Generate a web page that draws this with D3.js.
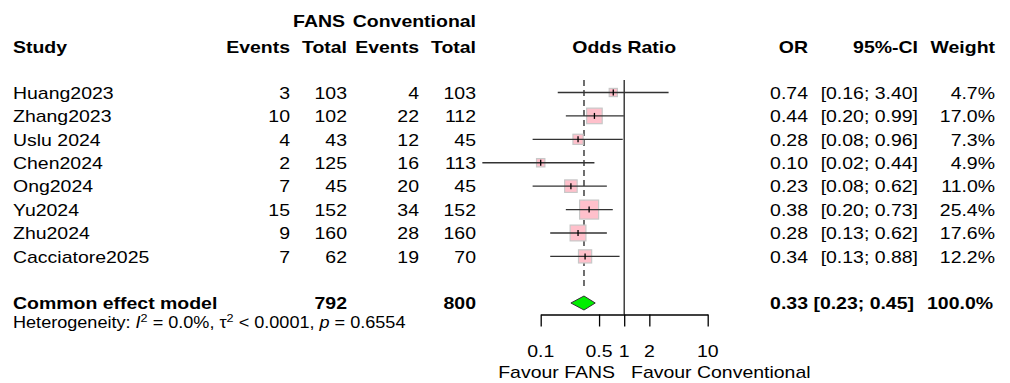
<!DOCTYPE html>
<html><head><meta charset="utf-8">
<script src="https://cdn.jsdelivr.net/npm/d3@7"></script>
<style>
body{margin:0;background:#fff}
svg{display:block}
text{font-family:"Liberation Sans",Arial,Helvetica,sans-serif;fill:#000}
</style>
</head><body>
<svg id="c" width="1010" height="383"></svg>
<script>
// ---------- data ----------
const studies    = ["Huang2023","Zhang2023","Uslu 2024","Chen2024","Ong2024","Yu2024","Zhu2024","Cacciatore2025"];
const fansEvents = [3,10,4,2,7,15,9,7];
const fansTotal  = [103,102,43,125,45,152,160,62];
const convEvents = [4,22,12,16,20,34,28,19];
const convTotal  = [103,112,45,113,45,152,160,70];
const oddsRatio  = [0.74,0.44,0.28,0.10,0.23,0.38,0.28,0.34];
const ciLower    = [0.16,0.20,0.08,0.02,0.08,0.20,0.13,0.13];
const ciUpper    = [3.40,0.99,0.96,0.44,0.62,0.73,0.62,0.88];
const weights    = [4.7,17.0,7.3,4.9,11.0,25.4,17.6,12.2];
const pooledLabel = "Common effect model";
const pooledOR    = 0.33, pooledLower = 0.23, pooledUpper = 0.45;
const pooledFansTotal = 792, pooledConvTotal = 800, pooledWeight = 100.0;
const axisTicks  = [0.1,0.5,1,2,10];
const hetI2 = "0.0%", hetTau2 = "0.0001", hetP = "0.6554";

// ---------- layout ----------
const svg = d3.select("#c");
const SX = 1.145;
const FS = 17;
const x = d3.scaleLog().domain([0.1,10]).range([540.7,707.7]);
const y = d3.scalePoint().domain(studies).range([92.5,256.4]);
const yPooled = 303;
const sq = d3.scaleSqrt().domain([0,25.4]).range([0,19]);
const f2 = d3.format(".2f"), f1 = d3.format(".1f");

function txt(px,py,s,opt={}){
  const t = svg.append("text")
    .attr("transform",`translate(${px},${py}) scale(${SX},1)`)
    .attr("text-anchor",opt.anchor||"start")
    .style("font-size",(opt.size||FS)+"px")
    .style("font-weight",opt.bold?"bold":"normal");
  if(s!==null) t.text(s);
  return t;
}

// headers
txt(13,53,"Study",{bold:true});
txt(345,27,"FANS",{bold:true,anchor:"end"});
txt(476,27,"Conventional",{bold:true,anchor:"end"});
txt(290,53,"Events",{bold:true,anchor:"end"});
txt(347,53,"Total",{bold:true,anchor:"end"});
txt(419,53,"Events",{bold:true,anchor:"end"});
txt(476,53,"Total",{bold:true,anchor:"end"});
txt(x(1),53,"Odds Ratio",{bold:true,anchor:"middle"});
txt(808,53,"OR",{bold:true,anchor:"end"});
txt(918,53,"95%-CI",{bold:true,anchor:"end"});
txt(995,53,"Weight",{bold:true,anchor:"end"});

// study rows text
studies.forEach((s,i)=>{
  const by = y(s)+6.3;
  txt(13,by,s);
  txt(290,by,fansEvents[i],{anchor:"end"});
  txt(347,by,fansTotal[i],{anchor:"end"});
  txt(419,by,convEvents[i],{anchor:"end"});
  txt(476,by,convTotal[i],{anchor:"end"});
  txt(808,by,f2(oddsRatio[i]),{anchor:"end"});
  txt(918,by,`[${f2(ciLower[i])}; ${f2(ciUpper[i])}]`,{anchor:"end"});
  txt(995,by,f1(weights[i])+"%",{anchor:"end"});
});

// pooled row text
const pby = yPooled+6;
txt(13,pby,pooledLabel,{bold:true});
txt(347,pby,pooledFansTotal,{bold:true,anchor:"end"});
txt(476,pby,pooledConvTotal,{bold:true,anchor:"end"});
txt(808,pby,f2(pooledOR),{bold:true,anchor:"end"});
txt(914,pby,`[${f2(pooledLower)}; ${f2(pooledUpper)}]`,{bold:true,anchor:"end"});
txt(993,pby,f1(pooledWeight)+"%",{bold:true,anchor:"end"});

// heterogeneity
const het = txt(13,328,null,{size:15.8});
het.append("tspan").text("Heterogeneity: ");
het.append("tspan").style("font-style","italic").text("I");
het.append("tspan").attr("dy",-6).style("font-size","11px").text("2");
het.append("tspan").attr("dy",6).text(` = ${hetI2}, \u03c4`);
het.append("tspan").attr("dy",-6).style("font-size","11px").text("2");
het.append("tspan").attr("dy",6).text(` < ${hetTau2}, `);
het.append("tspan").style("font-style","italic").text("p");
het.append("tspan").text(` = ${hetP}`);

// ---------- plot ----------
const plot = svg.append("g");
plot.append("line").attr("x1",x(1)).attr("x2",x(1)).attr("y1",80).attr("y2",314.5)
  .attr("stroke","#222").attr("stroke-width",1.3);
plot.append("line").attr("x1",x(pooledOR)).attr("x2",x(pooledOR)).attr("y1",80).attr("y2",290)
  .attr("stroke","#222").attr("stroke-width",1.3).attr("stroke-dasharray","6,4");

plot.selectAll("rect.w").data(studies).join("rect").attr("class","w")
  .attr("x",(s,i)=>x(oddsRatio[i])-sq(weights[i])/2)
  .attr("y",(s,i)=>y(s)-sq(weights[i])/2)
  .attr("width",(s,i)=>sq(weights[i]))
  .attr("height",(s,i)=>sq(weights[i]))
  .attr("fill","#FFC0CB").attr("stroke","#c8c8c8").attr("stroke-width",1.2);

plot.selectAll("line.ci").data(studies).join("line").attr("class","ci")
  .attr("x1",(s,i)=>x(ciLower[i])).attr("x2",(s,i)=>x(ciUpper[i]))
  .attr("y1",s=>y(s)).attr("y2",s=>y(s))
  .attr("stroke","#333").attr("stroke-width",1.3);

plot.selectAll("line.pt").data(studies).join("line").attr("class","pt")
  .attr("x1",(s,i)=>x(oddsRatio[i])).attr("x2",(s,i)=>x(oddsRatio[i]))
  .attr("y1",s=>y(s)-3).attr("y2",s=>y(s)+3)
  .attr("stroke","#000").attr("stroke-width",1.3);

const dh = 7;
plot.append("path")
  .attr("d",`M${x(pooledLower)},${yPooled} L${x(pooledOR)},${yPooled-dh} L${x(pooledUpper)},${yPooled} L${x(pooledOR)},${yPooled+dh} Z`)
  .attr("fill","#00ee00").attr("stroke","#333").attr("stroke-width",1);

const ax = svg.append("g").attr("transform","translate(0,314.5)")
  .call(d3.axisBottom(x).tickValues(axisTicks).tickFormat("").tickSize(12).tickSizeOuter(0));
ax.select(".domain").attr("stroke","#000").attr("stroke-width",1.3);
ax.selectAll(".tick line").attr("stroke","#000").attr("stroke-width",1.3);
axisTicks.forEach(t=>txt(x(t),357,String(t),{anchor:"middle"}));

txt(615,378,"Favour FANS",{anchor:"end"});
txt(631,378,"Favour Conventional");
</script>
</body></html>
